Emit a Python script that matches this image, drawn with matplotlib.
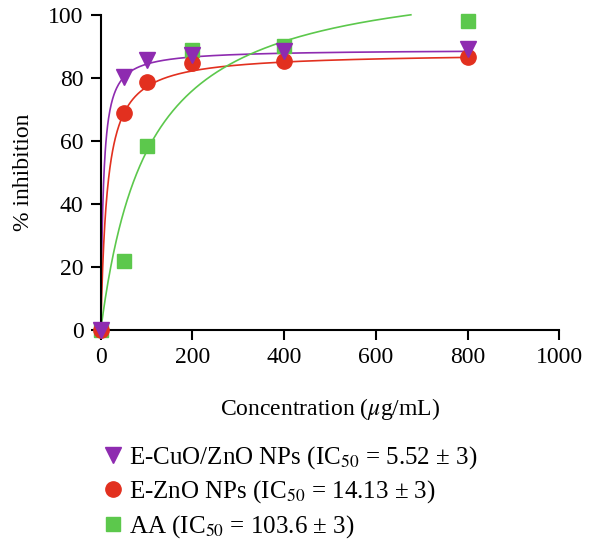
import numpy as np
import matplotlib
matplotlib.use("Agg")
import matplotlib.pyplot as plt
from matplotlib.lines import Line2D

plt.rcParams['font.family'] = ['Liberation Serif', 'DejaVu Serif']
plt.rcParams['mathtext.fontset'] = 'stix'

# measured points
conc = [0, 50, 100, 200, 400, 800]
cuo_zno = [0, 80.4, 85.7, 87.3, 88.6, 89.0]
zno = [0, 68.8, 78.8, 84.7, 85.4, 86.7]
aa = [0, 22, 58.2, 88.8, 90.2, 97.9]

# hyperbolic fit parameters (top, IC50)
fit_top = [89.0, 88.0, 115.3]
ic50 = [5.52, 14.13, 103.6]

labels = ["E-CuO/ZnO NPs (IC$_{50}$ = 5.52 ± 3)",
          "E-ZnO NPs (IC$_{50}$ = 14.13 ± 3)",
          "AA (IC$_{50}$ = 103.6 ± 3)"]
colors = ["#8e2bb0", "#e2301f", "#5cc84c"]
markers = ["v", "o", "s"]
msizes = [11, 11, 10]
fs = 17

fig = plt.figure(figsize=(6.0, 5.47), dpi=100)
ax = fig.add_axes([0.168, 0.397, 0.764, 0.576])

xs = np.concatenate([np.linspace(0, 10, 200), np.linspace(10, 800, 800)])
series = [cuo_zno, zno, aa]
for top, k, c in zip(fit_top, ic50, colors):
    ys = top * xs / (k + xs)
    keep = ys <= 100
    ax.plot(xs[keep], ys[keep], color=c, lw=1.2, zorder=2, clip_on=False)
for vals, c, m, ms in zip(series[::-1], colors[::-1], markers[::-1], msizes[::-1]):
    ax.plot(conc, vals, linestyle="none", marker=m, ms=ms, color=c, zorder=3, clip_on=False)

handles = []
for c, m, ms, lab in zip(colors, markers, msizes, labels):
    handles.append(Line2D([], [], linestyle="none", marker=m, ms=ms, color=c, label=lab))

ax.set_xlim(0, 1000)
ax.set_ylim(0, 100)
ax.set_xticks([0, 200, 400, 600, 800, 1000])
ax.set_yticks([0, 20, 40, 60, 80, 100])
ax.spines['top'].set_visible(False)
ax.spines['right'].set_visible(False)
ax.spines['left'].set_linewidth(1.5)
ax.spines['bottom'].set_linewidth(1.5)
ax.tick_params(direction='out', length=7.5, width=1.5, labelsize=fs, pad=5)
ax.set_xlabel("Concentration ($\\mathit{\\mu}$g/mL)", fontsize=fs, labelpad=20)
ax.set_ylabel("% inhibition", fontsize=fs, labelpad=10)

fig.legend(handles=handles, loc='upper left', bbox_to_anchor=(0.171, 0.188),
           frameon=False, fontsize=18, handlelength=0.8, handletextpad=0.25,
           labelspacing=0.3, borderpad=0, borderaxespad=0)

fig.savefig("out.png", dpi=100)
